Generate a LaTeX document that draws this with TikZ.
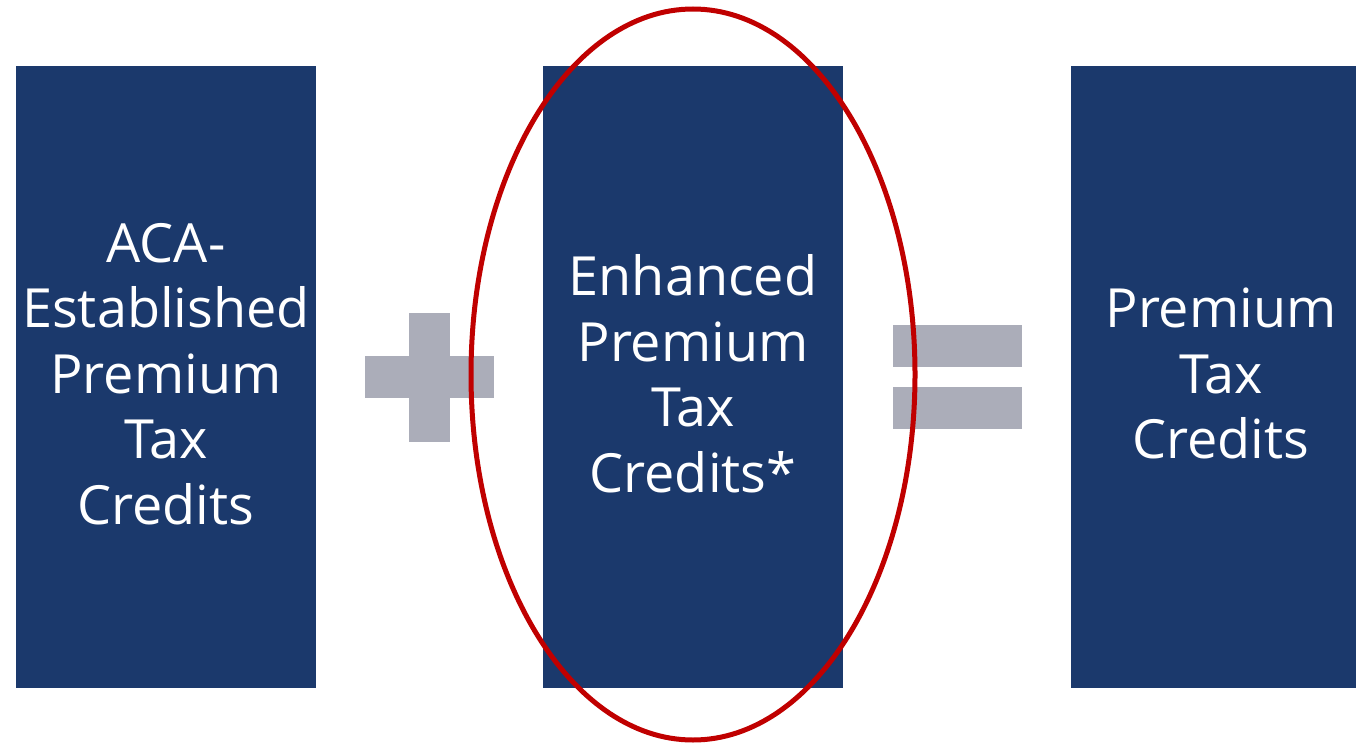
\documentclass[tikz,border=0pt]{standalone}
\usepackage{fontspec}
\setmainfont{Open Sans}
\definecolor{boxblue}{HTML}{1B396C}
\definecolor{signgray}{HTML}{ABADB9}
\definecolor{ringred}{HTML}{C00000}
\begin{document}
\begin{tikzpicture}[x=1pt,y=-1pt,
  creditbox/.style={fill=boxblue, draw=none, minimum width=300pt, minimum height=621pt,
    inner sep=0pt, text=white, align=center, text depth=7pt,
    font=\fontsize{54}{65.5}\selectfont},
  signbar/.style={fill=signgray, draw=none}]
\clip (0,0) rectangle (1356,743);
\fill[white] (0,0) rectangle (1356,743);
\node[creditbox] (aca) at (166,377) {ACA-\\Established\\Premium\\Tax\\Credits};
\node[creditbox] (enh) at (693,377) {Enhanced\\Premium\\Tax\\Credits*};
\node[creditbox] (tot) at (1221,377) {Premium\\Tax\\Credits};
% plus sign
\fill[signbar] (365,356) rectangle (494,398);
\fill[signbar] (409,313) rectangle (450,442);
% equals sign
\fill[signbar] (893,325) rectangle (1022,367);
\fill[signbar] (893,387) rectangle (1022,429);
% red ellipse
\draw[ringred, line width=5pt] (enh.center) ++(0,-2.5) ellipse [x radius=222, y radius=365.5];
\end{tikzpicture}
\end{document}
